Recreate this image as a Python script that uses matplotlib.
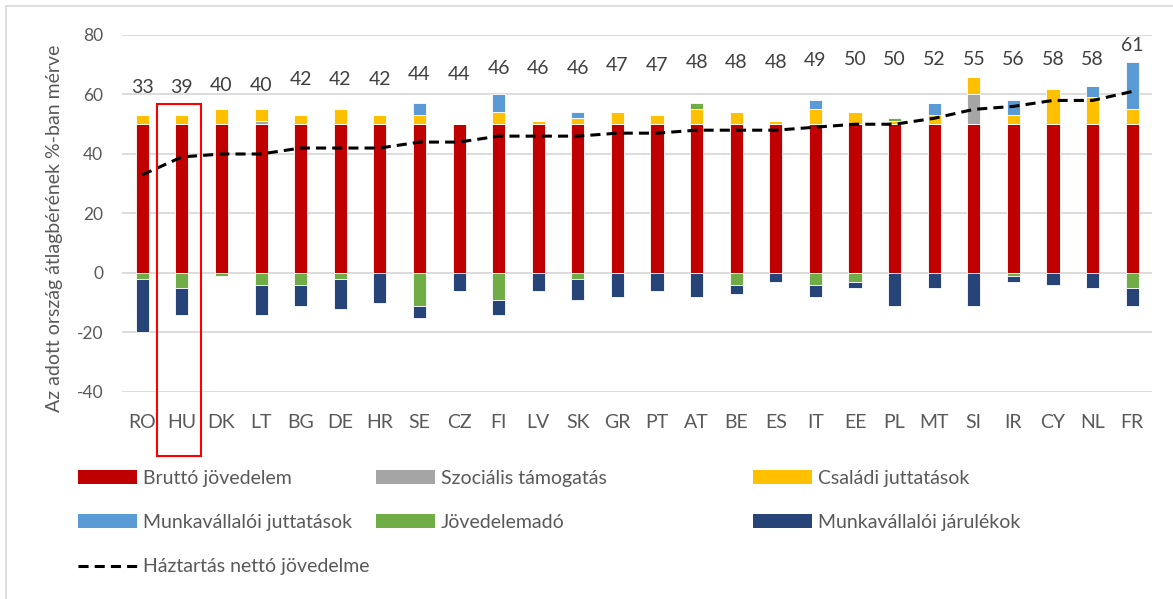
import numpy as np
import matplotlib
matplotlib.use('Agg')
import matplotlib.pyplot as plt
from matplotlib.patches import Rectangle, Patch
from matplotlib.lines import Line2D

plt.rcParams['font.family'] = ['Lato', 'DejaVu Sans']
plt.rcParams['axes.unicode_minus'] = False

# Data (share of the country's average wage, %)
countries = ['RO', 'HU', 'DK', 'LT', 'BG', 'DE', 'HR', 'SE', 'CZ', 'FI', 'LV', 'SK', 'GR',
             'PT', 'AT', 'BE', 'ES', 'IT', 'EE', 'PL', 'MT', 'SI', 'IR', 'CY', 'NL', 'FR']
brutto = [50] * 26
szocialis = [0, 0, 0, 1, 0, 0, 0, 0, 0, 0, 0, 0, 0, 0, 0, 0, 0, 0, 0, 0, 0, 10, 0, 0, 0, 0]
csaladi = [3, 3, 5, 4, 3, 5, 3, 3, 0, 4, 1, 2, 4, 3, 5, 4, 1, 5, 4, 1, 3, 6, 3, 12, 9, 5]
munk_jutt = [0, 0, 0, 0, 0, 0, 0, 4, 0, 6, 0, 2, 0, 0, 0, 0, 0, 3, 0, 0, 4, 0, 5, 0, 4, 16]
jov_ado = [-2, -5, -1, -4, -4, -2, 0, -11, 0, -9, 0, -2, 0, 0, 2, -4, 0, -4, -3, 1, 0, 0, -1, 0, 0, -5]
jarulek = [-18, -9, 0, -10, -7, -10, -10, -4, -6, -5, -6, -7, -8, -6, -8, -3, -3, -4, -2, -11, -5, -11, -2, -4, -5, -6]
netto = [33, 39, 40, 40, 42, 42, 42, 44, 44, 46, 46, 46, 47, 47, 48, 48, 48, 49, 50, 50, 52, 55, 56, 58, 58, 61]

series = [
    ('Bruttó jövedelem', brutto, '#C00000'),
    ('Szociális támogatás', szocialis, '#A5A5A5'),
    ('Családi juttatások', csaladi, '#FFC000'),
    ('Munkavállalói juttatások', munk_jutt, '#5B9BD5'),
    ('Jövedelemadó', jov_ado, '#70AD47'),
    ('Munkavállalói járulékok', jarulek, '#264478'),
]
line_label = 'Háztartás nettó jövedelme'

fig = plt.figure(figsize=(11.73, 5.99), dpi=100)
ax = fig.add_axes([0.1044, 0.3456, 0.8777, 0.596])

x = np.arange(len(countries))
pos_bottom = np.zeros(len(countries))
neg_bottom = np.zeros(len(countries))
handles = {}
for name, vals, color in series:
    v = np.array(vals, dtype=float)
    bottom = np.where(v >= 0, pos_bottom, neg_bottom)
    ax.bar(x, v, 0.33, bottom=bottom, color=color, edgecolor='white', linewidth=0.6, zorder=3)
    pos_bottom += np.where(v > 0, v, 0)
    neg_bottom += np.where(v < 0, v, 0)
    handles[name] = Patch(facecolor=color)

ax.plot(x, netto, color='black', lw=2.2, dashes=(3.3, 2.0), zorder=4)
handles[line_label] = Line2D([], [], color='black', lw=2.2, dashes=(3.3, 2.0))

# value labels above the bars
for i, v in enumerate(netto):
    y = np.clip(63 + 0.95 * (v - 40), 62.3, 71.6)
    y = max(y, pos_bottom[i] + 5.6)
    ax.text(i, y, str(v), ha='center', va='center', fontsize=14, color='#404040')

ax.set_xlim(-0.5, len(countries) - 0.5)
ax.set_ylim(-40, 80)
ax.set_yticks(np.arange(-40, 81, 20))
ax.set_xticks(x)
ax.set_xticklabels(countries)
ax.tick_params(axis='both', length=0, labelsize=14, colors='#595959')
ax.tick_params(axis='x', pad=16)
ax.tick_params(axis='y', pad=14, labelsize=12.5)
ax.grid(axis='y', color='#D9D9D9', lw=1.3, zorder=0)
for s in ax.spines.values():
    s.set_visible(False)

fig.text(55 / 1173, 1 - 228 / 599, 'Az adott ország átlagbérének %-ban mérve',
         rotation=90, ha='center', va='center', fontsize=14, color='#595959')

# highlight box around HU
ax.add_patch(Rectangle((1 - 0.63, -61.5), 1.11, 118.3, fill=False, edgecolor='#FF0000',
                       lw=1.5, clip_on=False, zorder=5))

# legend in three columns
cols = [
    (['Bruttó jövedelem', 'Munkavállalói juttatások', line_label], 78),
    (['Szociális támogatás', 'Jövedelemadó'], 376),
    (['Családi juttatások', 'Munkavállalói járulékok'], 753),
]
for names, xpix in cols:
    leg = fig.legend([handles[n] for n in names], names, loc='upper left',
                     bbox_to_anchor=(xpix / 1173, 1 - 470 / 599), frameon=False,
                     fontsize=14, handlelength=3.05, handleheight=0.72, handletextpad=0.3,
                     labelspacing=1.4, borderpad=0, borderaxespad=0)
    for t in leg.get_texts():
        t.set_color('#595959')

# chart frame
fig.add_artist(Line2D([6 / 1173, 6 / 1173], [0, 1 - 6 / 599], color='#D9D9D9', lw=1.2))
fig.add_artist(Line2D([6 / 1173, 1], [1 - 6 / 599, 1 - 6 / 599], color='#D9D9D9', lw=1.2))

fig.savefig('out.png', dpi=100)
